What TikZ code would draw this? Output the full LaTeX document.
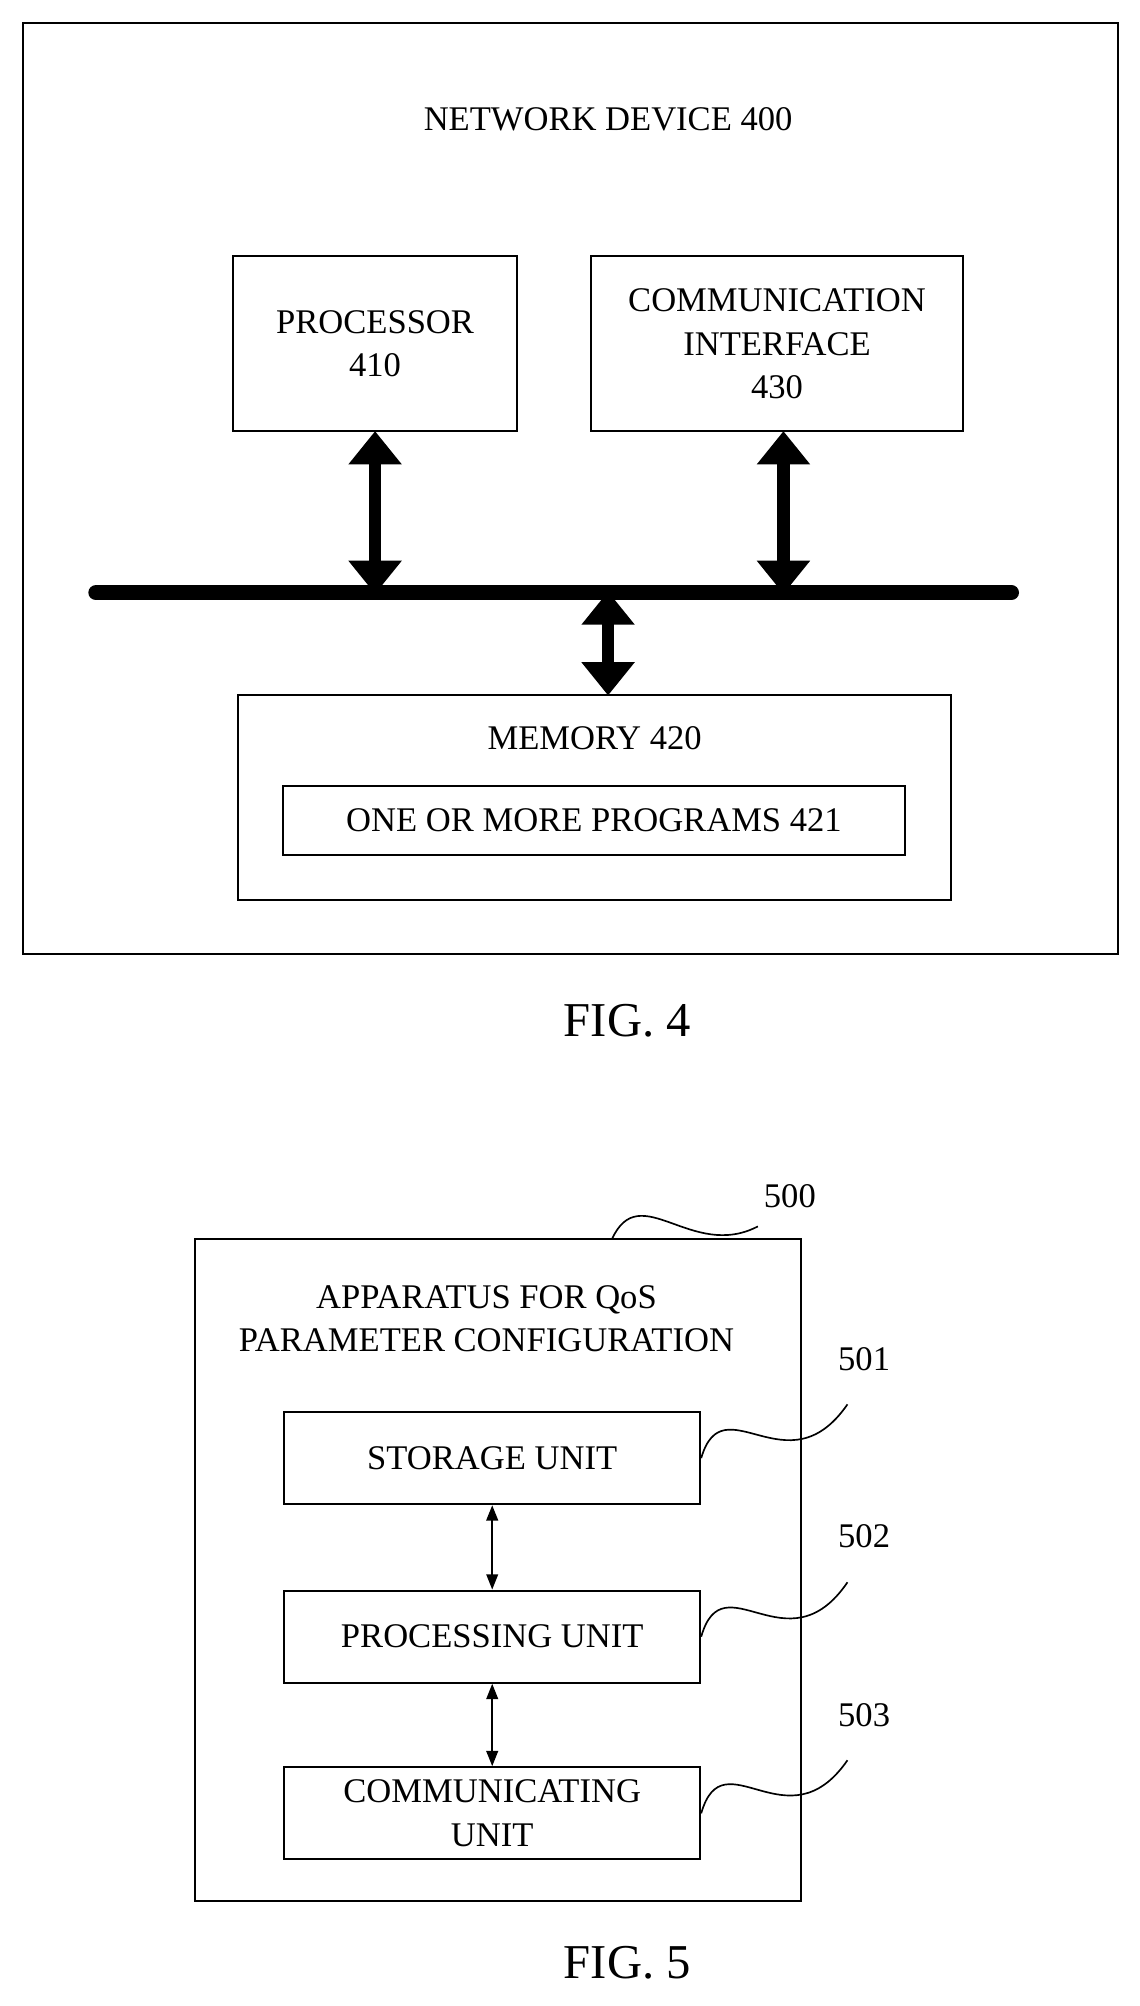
\documentclass[tikz,border=0pt]{standalone}
\usepackage{fontspec}
\setmainfont{Liberation Serif}
\usetikzlibrary{positioning,arrows.meta}

\begin{document}
\begin{tikzpicture}[x=1pt, y=-1pt,
  box/.style={rectangle, draw=black, line width=1.5pt, align=center, inner sep=0pt},
  lbl/.style={font=\fontsize{27}{34}\selectfont, align=center},
  fig/.style={font=\fontsize{38}{44}\selectfont},
  busarrow/.style={{Triangle[width=40pt,length=26pt]}-{Triangle[width=40pt,length=26pt]}, line width=10pt, shorten <=-1pt, shorten >=-1pt},
  thinarrow/.style={{Triangle[width=9pt,length=12pt]}-{Triangle[width=9pt,length=12pt]}, line width=1.8pt},
  leader/.style={line width=1.3pt}
]
\useasboundingbox (0,0) rectangle (890,1567);

% --- FIG. 4: NETWORK DEVICE ---
\node[box, minimum width=855pt, minimum height=727pt] (dev) at (445.5,381.5) {};
\node[lbl] (devtitle) at (475,93) {NETWORK DEVICE 400};

\node[box, lbl, minimum width=222pt, minimum height=137pt] (proc) at (293,268.5) {PROCESSOR\\410};
\node[box, lbl, minimum width=290pt, minimum height=137pt] (comm) at (607,268.5) {COMMUNICATION\\INTERFACE\\430};

% bus
\coordinate (busL) at (75,463);
\coordinate (busR) at (790,463);
\draw[line width=12pt, line cap=round] (busL) -- (busR);

\node[box, minimum width=557pt, minimum height=160pt] (mem) at (464.5,623) {};
\node[lbl, below=22pt of mem.north] (memtitle) {MEMORY 420};
\node[box, lbl, minimum width=486pt, minimum height=54pt] (prog) at (464,641) {ONE OR MORE PROGRAMS 421};

\draw[busarrow] (proc.south) -- (proc.south |- busL);
\draw[busarrow] (comm.south -| 612,0) -- (612,463);
\draw[busarrow] (475,463) -- (mem.north -| 475,0);

\node[fig] (fig4) at (490,797) {FIG. 4};

% --- FIG. 5: APPARATUS ---
\node[box, minimum width=474pt, minimum height=517pt] (app) at (389,1226.5) {};
\node[lbl] (apptitle) at (380,1030) {APPARATUS FOR QoS\\PARAMETER CONFIGURATION};

\node[box, lbl, minimum width=325pt, minimum height=72pt] (store) at (384.5,1139) {STORAGE UNIT};
\node[box, lbl, minimum width=325pt, minimum height=72pt] (procu) at (384.5,1278.5) {PROCESSING UNIT};
\node[box, lbl, minimum width=325pt, minimum height=72pt] (commu) at (384.5,1416.5) {COMMUNICATING\\UNIT};

\draw[thinarrow] (store.south) -- (procu.north);
\draw[thinarrow] (procu.south) -- (commu.north);

% reference labels with wavy leaders
\node[lbl] (n500) at (617,934) {500};
\node[lbl] (n501) at (675,1062) {501};
\node[lbl] (n502) at (675,1200) {502};
\node[lbl] (n503) at (675,1340) {503};

\coordinate (w500) at (478,968);
\draw[leader] (w500) .. controls (500,920) and (540,985) .. (592,958);
\draw[leader] (store.east) .. controls (565,1080) and (615,1165) .. (662,1097);
\draw[leader] (procu.east) .. controls (565,1218) and (615,1305) .. (662,1236);
\draw[leader] (commu.east) .. controls (565,1356) and (615,1443) .. (662,1375);

\node[fig] (fig5) at (490,1533) {FIG. 5};
\end{tikzpicture}
\end{document}
